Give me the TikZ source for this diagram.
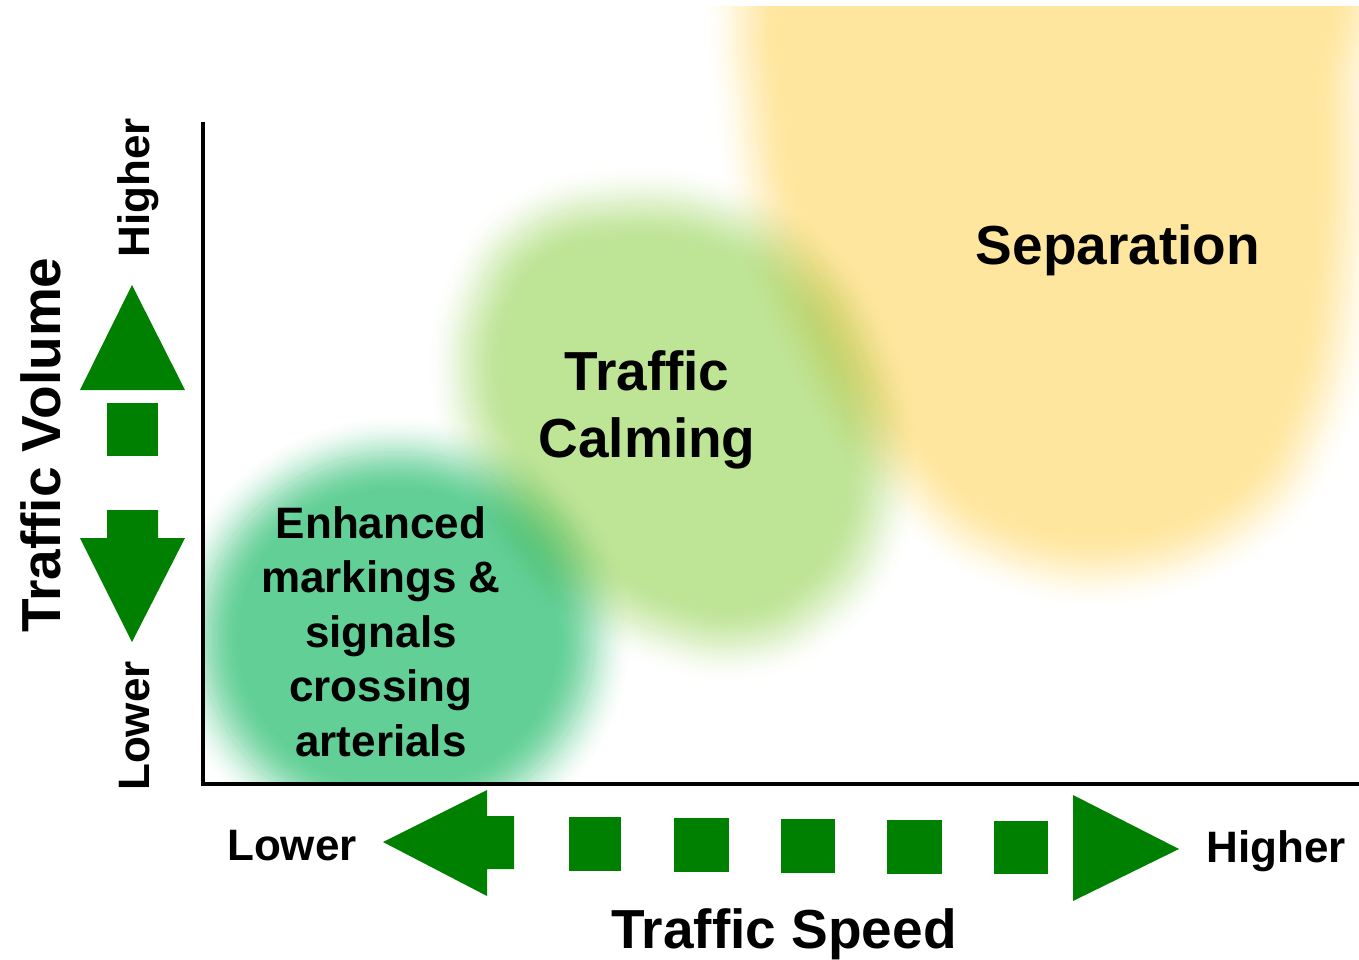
\documentclass[tikz,border=0pt]{standalone}
\usepackage{fontspec}
\setmainfont{Liberation Sans}
\definecolor{sepyellow}{RGB}{255,230,158}
\definecolor{calmgreen}{RGB}{190,228,150}
\definecolor{tealgreen}{RGB}{98,207,150}
\definecolor{arrowgreen}{RGB}{0,128,0}
\newcommand\blobB{40}
\newcommand\blobN{16}
% soft-edged blob: #1 colour, #2 path
\newcommand\softblob[2]{%
  \pgfmathsetmacro\blobd{\blobB/\blobN}%
  \foreach \k in {\blobN,...,1}{%
    \pgfmathsetmacro\uu{(\blobB-(\k-0.5)*\blobd)/(2*\blobB)}%
    \pgfmathsetmacro\tt{100*\uu*\uu*(3-2*\uu)}%
    \path[fill=#1!\tt!white, draw=#1!\tt!white, line width=2*\k*\blobd, line join=round] #2;
  }%
  \begin{scope}
    \clip #2;
    \fill[#1] #2;
    \foreach \k in {\blobN,...,1}{%
      \pgfmathsetmacro\uu{(\blobB+(\k-0.5)*\blobd)/(2*\blobB)}%
      \pgfmathsetmacro\tt{100*\uu*\uu*(3-2*\uu)}%
      \draw[#1!\tt!white, line width=2*\k*\blobd, line join=round] #2;
    }%
  \end{scope}%
  \draw[#1!50!white, line width=\blobd, line join=round] #2;
}
\tikzset{
  arrowshape/.style={fill=arrowgreen, draw=none},
  axisline/.style={line width=4pt, black},
  bigtext/.style={font=\fontsize{55}{67}\selectfont\bfseries, inner sep=0pt},
  smalltext/.style={font=\fontsize{44}{54.5}\selectfont\bfseries, inner sep=0pt},
}
\begin{document}
\begin{tikzpicture}[x=1pt, y=-1pt]
\useasboundingbox (0,0) rectangle (1359,960);
\fill[white] (0,0) rectangle (1359,960);

% Separation blob
\begin{scope}[blend mode=multiply]
 \begin{scope}[transparency group]
  \begin{scope}[blend mode=normal]
   \clip (0,7) rectangle (1359,960);
   \softblob{sepyellow}{plot[smooth cycle, tension=0.7] coordinates {(760,-60) (1050,-80) (1340,-50) (1352,100) (1346,280) (1316,420) (1248,520) (1120,570) (990,548) (905,480) (845,400) (795,300) (762,200) (748,100) (742,20)}}
  \end{scope}
 \end{scope}
\end{scope}

% Traffic calming blob
\begin{scope}[blend mode=multiply]
 \begin{scope}[transparency group]
  \begin{scope}[blend mode=normal]
   \softblob{calmgreen}{plot[smooth cycle, tension=0.75] coordinates {(610,205) (720,215) (805,265) (860,350) (882,450) (868,545) (815,612) (745,643) (665,632) (590,595) (535,545) (492,470) (466,385) (478,298) (525,232)}}
  \end{scope}
 \end{scope}
\end{scope}

% Enhanced markings blob
\begin{scope}[blend mode=multiply]
 \begin{scope}[transparency group]
  \begin{scope}[blend mode=normal]
   \clip (205,0) rectangle (1359,782);
   \softblob{tealgreen}{(398,638) ellipse [x radius=196, y radius=185]}
  \end{scope}
 \end{scope}
\end{scope}

% axes
\coordinate (ytop) at (203,122);
\coordinate (origin) at (203,784);
\coordinate (xend) at (1359,784);
\draw[axisline] (ytop) -- (origin) -- (xend);

% vertical arrow
\fill[arrowshape] (132,285) -- (185,390) -- (80,390) -- cycle;
\fill[arrowshape] (107,403) rectangle (158,456);
\fill[arrowshape] (107,510) -- (158,510) -- (158,538) -- (185,538) -- (132,642) -- (80,538) -- (107,538) -- cycle;

% horizontal arrow
\fill[arrowshape] (383,842) -- (487,790) -- (487,816) -- (514,816) -- (514,869) -- (487,869) -- (487,896) -- cycle;
\fill[arrowshape] (569,817) rectangle (621,871);
\fill[arrowshape] (674,818) rectangle (729,872);
\fill[arrowshape] (781,819) rectangle (835,873);
\fill[arrowshape] (887,820) rectangle (942,874);
\fill[arrowshape] (994,821) rectangle (1048,874);
\fill[arrowshape] (1073,795) -- (1179,849) -- (1073,901) -- cycle;

% labels
\node[bigtext, rotate=90, anchor=base] (vol) at (60,445) {Traffic Volume};
\node[smalltext, rotate=90, anchor=base] (vhigh) at (149,188) {Higher};
\node[smalltext, rotate=90, anchor=base] (vlow) at (149,726) {Lower};
\node[smalltext, anchor=base] (hlow) at (292,860) {Lower};
\node[smalltext, anchor=base] (hhigh) at (1276,862) {Higher};
\node[bigtext, anchor=base] (speed) at (784,948) {Traffic Speed};
\node[bigtext, anchor=base] (sep) at (1118,264) {Separation};
\node[bigtext, anchor=north, align=center] (calm) at (647,350) {Traffic\\Calming};
\node[smalltext, anchor=north, align=center] (enh) at (381,506) {Enhanced\\markings \&\\signals\\crossing\\arterials};
\end{tikzpicture}
\end{document}
